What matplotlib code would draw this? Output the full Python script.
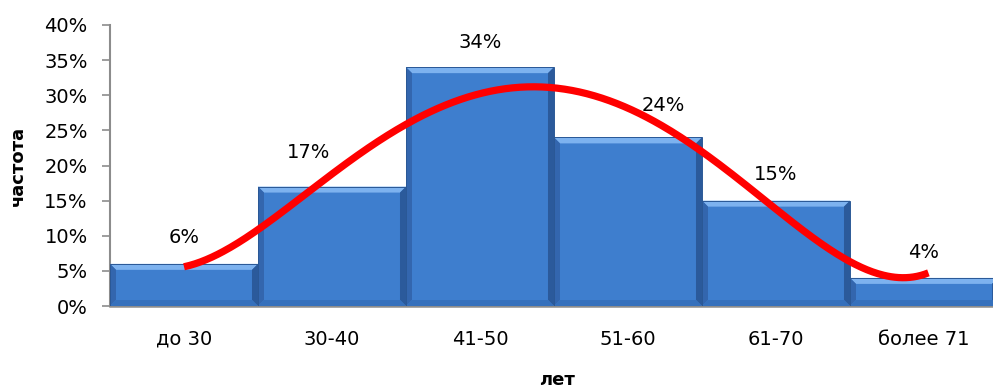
import numpy as np
import matplotlib
matplotlib.use("Agg")
import matplotlib.pyplot as plt
from matplotlib.patches import Rectangle, Polygon
from matplotlib.ticker import FuncFormatter

# ---- data ----
categories = ["до 30", "30-40", "41-50", "51-60", "61-70", "более 71"]
values = [6, 17, 34, 24, 15, 4]
labels = ["6%", "17%", "34%", "24%", "15%", "4%"]
y_ticks = [0, 5, 10, 15, 20, 25, 30, 35, 40]
# smooth red curve (x in category units, y in %)
curve_x = [0, 0.5, 1, 1.5, 2, 2.26, 2.5, 3, 3.5, 4, 4.5, 4.8, 5.03]
curve_y = [5.6, 10.8, 18.9, 25.8, 30.3, 31.1, 30.8, 28.6, 21.6, 14.0, 6.1, 4.3, 4.65]

# ---- layout / style ----
label_offsets_px = [(0, 26), (-23, 34), (0, 25), (35, 32), (0, 26), (0, 25)]
FONT = ["DejaVu Sans"]
plt.rcParams["font.family"] = FONT

W, H = 993, 390
fig = plt.figure(figsize=(W / 100, H / 100), dpi=100)
left_px, right_px, top_px, bottom_px = 110, 993, 25, 306
ax = fig.add_axes([left_px / W, (H - bottom_px) / H,
                   (right_px - left_px) / W, (bottom_px - top_px) / H])
xmax = 5.5 - 5 / 148.5
ax.set_xlim(-0.5, xmax)
ax.set_ylim(0, 40)

# pixel -> data unit conversions
px_x = (xmax + 0.5) / (right_px - left_px)
px_y = 40 / (bottom_px - top_px)
bx, by = 6 * px_x, 6 * px_y

c_main = "#3E7ECE"
c_top = "#7DB2EF"
c_left = "#3366AE"
c_right = "#2B5A9B"
c_bot = "#3570BC"

for i, v in enumerate(values):
    x0, x1 = i - 0.5, i + 0.5
    ax.add_patch(Rectangle((x0, 0), 1, v, facecolor=c_main, edgecolor="none", zorder=2))
    ax.add_patch(Polygon([(x0, v), (x1, v), (x1 - bx, v - by), (x0 + bx, v - by)],
                         closed=True, facecolor=c_top, edgecolor="none", zorder=3))
    ax.add_patch(Polygon([(x0, 0), (x0, v), (x0 + bx, v - by), (x0 + bx, by)],
                         closed=True, facecolor=c_left, edgecolor="none", zorder=3))
    ax.add_patch(Polygon([(x1, 0), (x1, v), (x1 - bx, v - by), (x1 - bx, by)],
                         closed=True, facecolor=c_right, edgecolor="none", zorder=3))
    ax.add_patch(Polygon([(x0, 0), (x1, 0), (x1 - bx, by), (x0 + bx, by)],
                         closed=True, facecolor=c_bot, edgecolor="none", zorder=3))
    ax.add_patch(Rectangle((x0, 0), 1, v, facecolor="none", edgecolor="#2A5896",
                           linewidth=0.7, zorder=4))
    dx, dy = label_offsets_px[i]
    ax.annotate(labels[i], xy=(i, v), xytext=(dx, dy), textcoords="offset pixels",
                ha="center", va="center", fontsize=14, color="black", zorder=6)

# smooth trend curve through the read points
coef = np.polyfit(curve_x, curve_y, 6)
xs = np.linspace(curve_x[0], curve_x[-1], 400)
ax.plot(xs, np.polyval(coef, xs), color="#FF0000", linewidth=5.2,
        solid_capstyle="butt", zorder=5)

# axes styling
for s in ["top", "right"]:
    ax.spines[s].set_visible(False)
ax.spines["left"].set_color("#8C8C8C")
ax.spines["bottom"].set_color("#8C8C8C")
ax.spines["left"].set_linewidth(1.5)
ax.spines["bottom"].set_linewidth(1.8)
ax.set_yticks(y_ticks)
ax.yaxis.set_major_formatter(FuncFormatter(lambda v, p: f"{v:.0f}%"))
ax.tick_params(axis="y", length=6, width=1.2, color="#8C8C8C", pad=10, labelsize=14)
ax.set_xticks(range(len(categories)))
ax.set_xticklabels(categories)
ax.tick_params(axis="x", length=0, pad=17, labelsize=14)

fig.text(18 / W, (H - 166) / H, "частота", rotation=90, ha="center", va="center",
         fontsize=13, fontweight="bold")
fig.text(557 / W, (H - 380) / H, "лет", ha="center", va="center",
         fontsize=13, fontweight="bold")

fig.savefig("out.png", dpi=100)
